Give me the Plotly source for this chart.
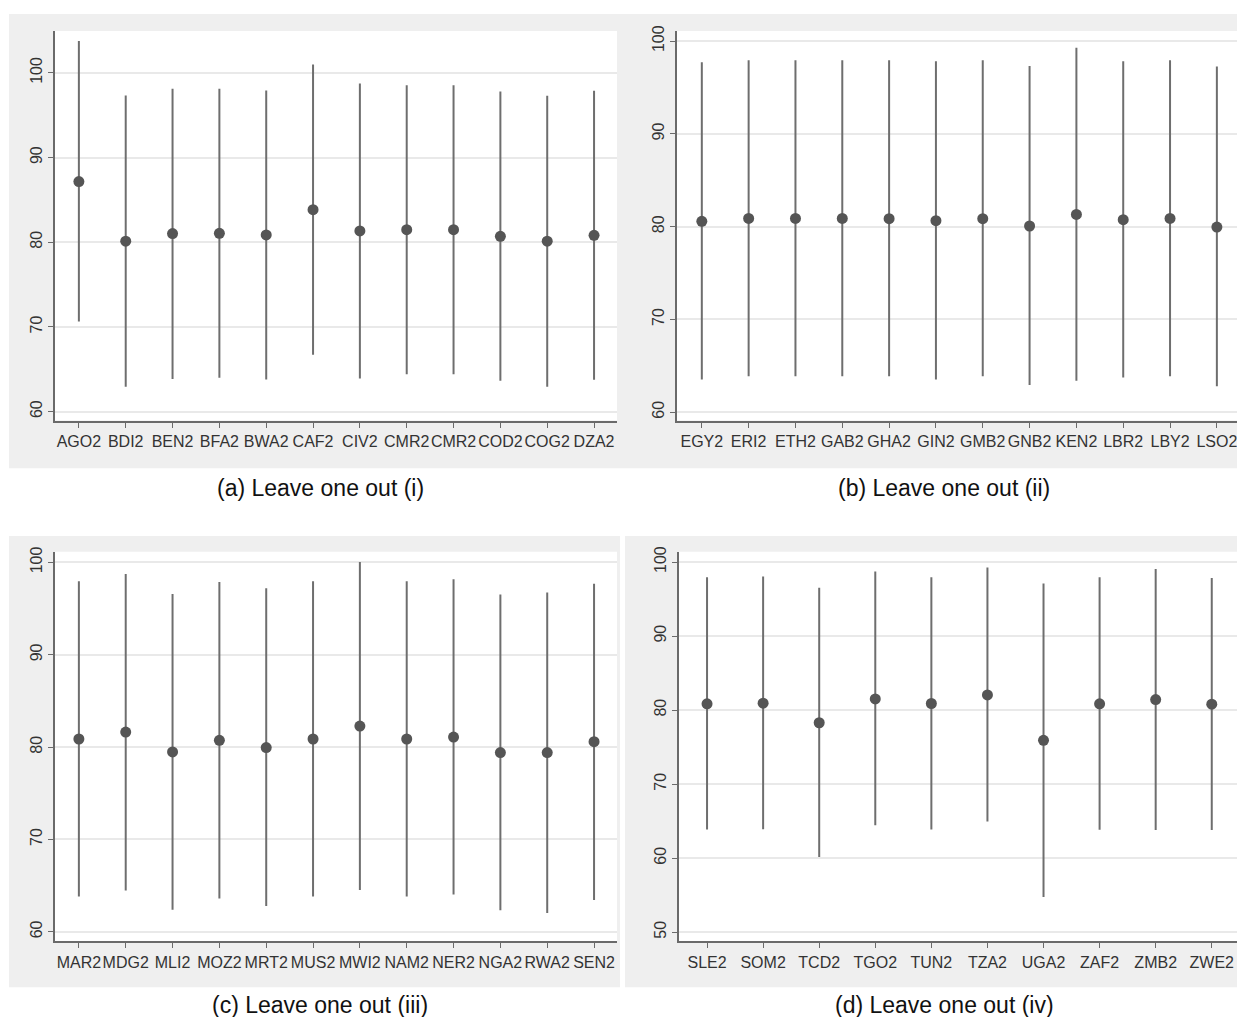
import plotly.graph_objects as go

# ---------------- data ----------------
cats_a = ["AGO2", "BDI2", "BEN2", "BFA2", "BWA2", "CAF2", "CIV2", "CMR2", "CMR2", "COD2", "COG2", "DZA2"]
est_a = [87.16, 80.12, 81.02, 81.06, 80.86, 83.84, 81.33, 81.49, 81.49, 80.70, 80.12, 80.82]
hi_a = [103.76, 97.34, 98.12, 98.12, 97.93, 100.98, 98.75, 98.55, 98.55, 97.81, 97.30, 97.89]
lo_a = [70.65, 62.94, 63.84, 64.00, 63.80, 66.70, 63.91, 64.42, 64.42, 63.64, 62.94, 63.76]

cats_b = ["EGY2", "ERI2", "ETH2", "GAB2", "GHA2", "GIN2", "GMB2", "GNB2", "KEN2", "LBR2", "LBY2", "LSO2"]
est_b = [80.57, 80.89, 80.89, 80.89, 80.86, 80.64, 80.86, 80.07, 81.32, 80.75, 80.89, 79.96]
hi_b = [97.71, 97.93, 97.93, 97.93, 97.93, 97.82, 97.93, 97.32, 99.29, 97.82, 97.93, 97.25]
lo_b = [63.54, 63.89, 63.89, 63.89, 63.89, 63.54, 63.89, 62.93, 63.39, 63.75, 63.89, 62.79]

cats_c = ["MAR2", "MDG2", "MLI2", "MOZ2", "MRT2", "MUS2", "MWI2", "NAM2", "NER2", "NGA2", "RWA2", "SEN2"]
est_c = [80.88, 81.63, 79.48, 80.74, 79.95, 80.88, 82.28, 80.88, 81.09, 79.41, 79.41, 80.59]
hi_c = [97.96, 98.74, 96.59, 97.88, 97.20, 97.96, 100.04, 97.96, 98.17, 96.52, 96.74, 97.70]
lo_c = [63.84, 64.48, 62.40, 63.62, 62.80, 63.84, 64.52, 63.84, 64.05, 62.33, 62.05, 63.44]

cats_d = ["SLE2", "SOM2", "TCD2", "TGO2", "TUN2", "TZA2", "UGA2", "ZAF2", "ZMB2", "ZWE2"]
est_d = [80.84, 80.93, 78.29, 81.51, 80.89, 82.05, 75.92, 80.84, 81.42, 80.80]
hi_d = [97.94, 98.03, 96.51, 98.70, 97.94, 99.24, 97.09, 97.94, 99.06, 97.85]
lo_d = [63.88, 63.92, 60.16, 64.46, 63.88, 64.95, 54.74, 63.84, 63.79, 63.79]

captions = ["(a) Leave one out (i)", "(b) Leave one out (ii)",
            "(c) Leave one out (iii)", "(d) Leave one out (iv)"]

yticks_abc = [60, 70, 80, 90, 100]
yticks_d = [50, 60, 70, 80, 90, 100]

# ---------------- layout geometry ----------------
# The page body has a small margin, so the figure is drawn slightly in from the top-left.
OFFX = 8
OFFY = 10
W, H = 1245 - 2 * OFFX, 1027 - 2 * OFFY + 2


def px(x):
    return min(max((x - OFFX) / W, 0.0), 1.0)


def py(y):
    return min(max(1 - (y - OFFY) / H, 0.0), 1.0)


panels = [
    dict(cats=cats_a, est=est_a, hi=hi_a, lo=lo_a, xd=[px(55), px(617)], yd=[py(419), py(27)],
         xr=[0.49, 12.49], yr=[58.94, 104.96], yt=yticks_abc,
         bg=[9, 10, 622, 467], cap=(px(320), py(487))),
    dict(cats=cats_b, est=est_b, hi=hi_b, lo=lo_b, xd=[px(677), 1.0], yd=[py(419), py(27)],
         xr=[0.47, 12.43], yr=[59.1, 101.1], yt=yticks_abc,
         bg=[622, 10, 1245, 467], cap=(px(944), py(487))),
    dict(cats=cats_c, est=est_c, hi=hi_c, lo=lo_c, xd=[px(55), px(617)], yd=[py(943), py(551)],
         xr=[0.49, 12.49], yr=[58.96, 101.15], yt=yticks_abc,
         bg=[9, 535, 620, 989], cap=(px(320), py(1007))),
    dict(cats=cats_d, est=est_d, hi=hi_d, lo=lo_d, xd=[px(679), 1.0], yd=[py(943), py(551)],
         xr=[0.5, 10.45], yr=[48.75, 101.38], yt=yticks_d,
         bg=[625, 535, 1245, 989], cap=(px(944), py(1007))),
]

LINE_COL = "#6e6e6e"
DOT_COL = "#555555"
AXIS_COL = "#6a6a6a"
GRID_COL = "#e9e9e9"
FONT = "Liberation Sans, Arial, sans-serif"

fig = go.Figure()
shapes = []
annotations = []
layout = {}

for i, p in enumerate(panels):
    n = i + 1
    xa = "x" if n == 1 else f"x{n}"
    ya = "y" if n == 1 else f"y{n}"
    xs = list(range(1, len(p["cats"]) + 1))
    plus = [h - e for h, e in zip(p["hi"], p["est"])]
    minus = [e - l for e, l in zip(p["est"], p["lo"])]
    fig.add_trace(go.Scatter(
        x=xs, y=p["est"], mode="markers", xaxis=xa, yaxis=ya,
        marker=dict(size=11, color=DOT_COL),
        error_y=dict(type="data", symmetric=False, array=plus, arrayminus=minus,
                     width=0, thickness=2, color=LINE_COL),
        showlegend=False, hoverinfo="skip"))

    xkey = "xaxis" if n == 1 else f"xaxis{n}"
    ykey = "yaxis" if n == 1 else f"yaxis{n}"
    layout[xkey] = dict(
        domain=p["xd"], range=p["xr"], anchor=ya,
        tickmode="array", tickvals=xs, ticktext=p["cats"],
        showgrid=False, zeroline=False, showline=True, linecolor=AXIS_COL, linewidth=2,
        ticks="outside", ticklen=5, tickwidth=1, tickcolor=AXIS_COL,
        ticklabelstandoff=0, ticklabeloverflow="allow",
        tickfont=dict(family=FONT, size=16, color="#333333"), tickangle=0)
    layout[ykey] = dict(
        domain=p["yd"], range=p["yr"], anchor=xa,
        tickmode="array", tickvals=p["yt"], ticktext=[str(v) for v in p["yt"]],
        showgrid=True, gridcolor=GRID_COL, gridwidth=1.5, zeroline=False,
        showline=True, linecolor=AXIS_COL, linewidth=2,
        ticks="outside", ticklen=5, tickwidth=1, tickcolor=AXIS_COL,
        ticklabelstandoff=0, ticklabeloverflow="allow",
        tickfont=dict(family=FONT, size=16, color="#333333"), tickangle=-90)

    x0, y0, x1, y1 = p["bg"]
    shapes.append(dict(type="rect", xref="paper", yref="paper", layer="below",
                       x0=px(x0), x1=px(x1), y0=py(y1), y1=py(y0),
                       fillcolor="#efefef", line=dict(width=0)))
    shapes.append(dict(type="rect", xref="paper", yref="paper", layer="below",
                       x0=p["xd"][0], x1=p["xd"][1], y0=p["yd"][0], y1=p["yd"][1],
                       fillcolor="#ffffff", line=dict(width=0)))
    annotations.append(dict(text=captions[i], xref="paper", yref="paper",
                            x=p["cap"][0], y=p["cap"][1], showarrow=False,
                            xanchor="center", yanchor="middle", borderpad=0,
                            font=dict(family=FONT, size=23, color="#111111")))

fig.update_layout(
    width=W, height=H, margin=dict(l=0, r=0, t=0, b=0),
    paper_bgcolor="white", plot_bgcolor="rgba(0,0,0,0)",
    shapes=shapes, annotations=annotations, **layout)

fig.write_html("out.html")
